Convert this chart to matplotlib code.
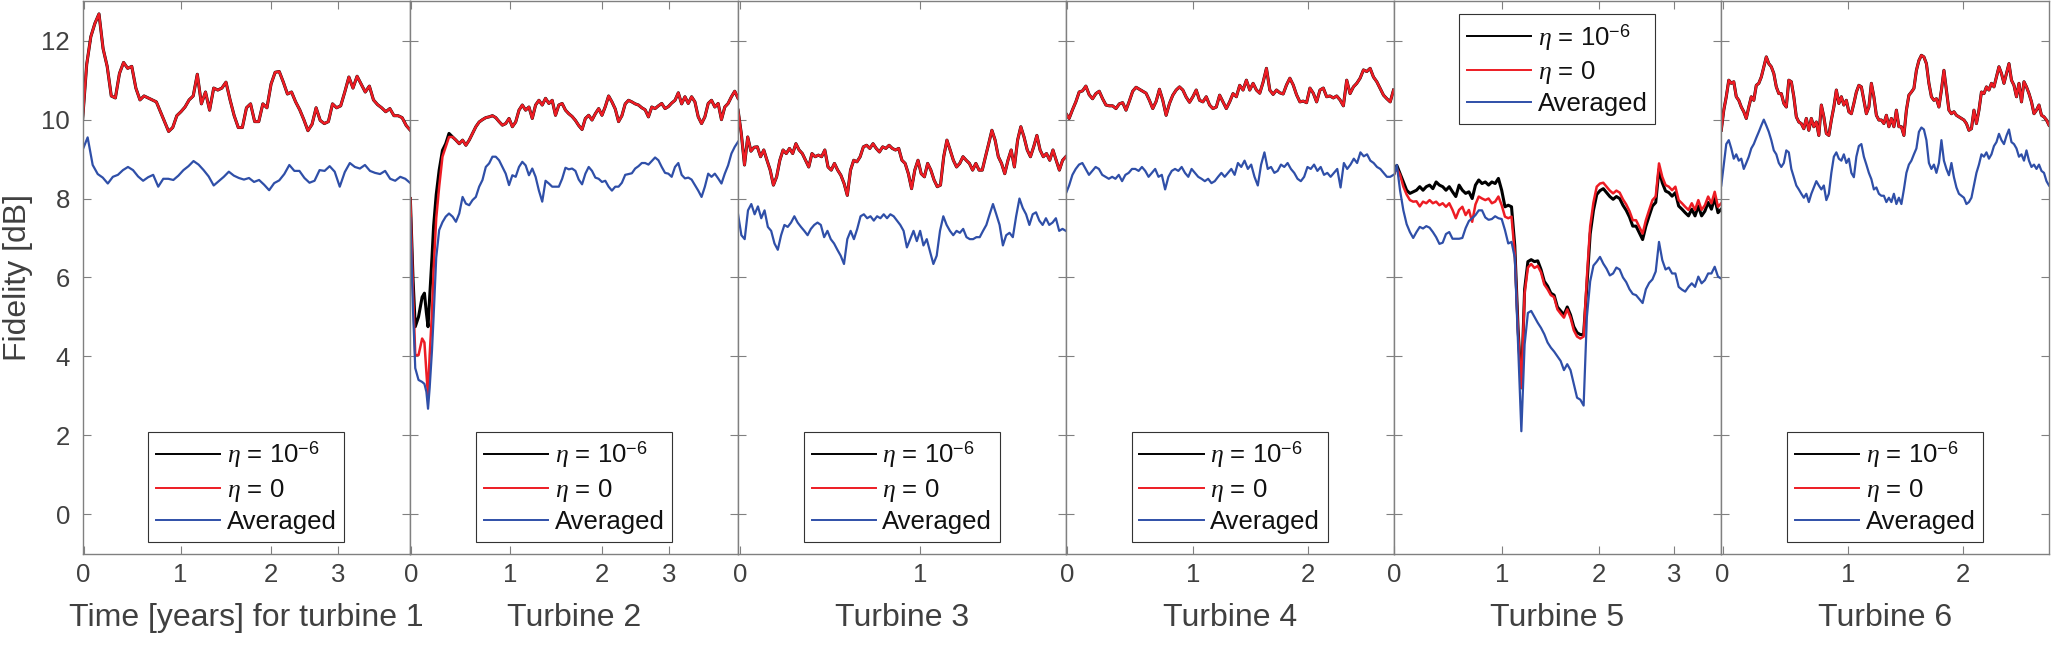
import numpy as np
import matplotlib
matplotlib.use("Agg")
import matplotlib.pyplot as plt
from matplotlib.lines import Line2D

plt.rcParams['font.family'] = ['Liberation Sans', 'DejaVu Sans']
plt.rcParams['mathtext.fontset'] = 'custom'
plt.rcParams['mathtext.rm'] = 'Liberation Sans'
plt.rcParams['mathtext.it'] = 'Liberation Serif:italic'

# ---- data (fidelity in dB, x = fraction of each turbine's record) ----

# turbine 1
red1 = [10.0, 11.4, 12.1, 12.44, 12.68, 11.8, 11.35, 10.6, 10.55, 11.17,
        11.45, 11.3, 11.35, 10.8, 10.5, 10.6, 10.55, 10.5, 10.45, 10.2,
        9.95, 9.7, 9.8, 10.1, 10.2, 10.32, 10.5, 10.6, 11.15, 10.4,
        10.7, 10.24, 10.8, 10.75, 10.8, 10.95, 10.5, 10.1, 9.8, 9.8,
        10.3, 10.4, 9.95, 9.95, 10.4, 10.3, 10.9, 11.2, 11.22, 10.95,
        10.65, 10.7, 10.45, 10.25, 10.0, 9.72, 9.88, 10.3, 9.98, 9.9,
        9.95, 10.4, 10.3, 10.35, 10.7, 11.08, 10.8, 11.1, 10.9, 10.7,
        10.85, 10.5, 10.38, 10.3, 10.2, 10.28, 10.1, 10.1, 10.05, 9.85,
        9.73]
blue1 = [9.23, 9.55, 8.85, 8.62, 8.53, 8.38, 8.55, 8.6, 8.72, 8.8,
         8.72, 8.56, 8.45, 8.54, 8.6, 8.3, 8.5, 8.5, 8.47, 8.58,
         8.72, 8.82, 8.95, 8.86, 8.72, 8.56, 8.33, 8.44, 8.55, 8.68,
         8.58, 8.52, 8.48, 8.52, 8.42, 8.47, 8.35, 8.21, 8.39, 8.46,
         8.62, 8.85, 8.7, 8.7, 8.52, 8.4, 8.45, 8.72, 8.7, 8.82,
         8.68, 8.3, 8.67, 8.9, 8.8, 8.76, 8.85, 8.7, 8.65, 8.62,
         8.7, 8.5, 8.45, 8.55, 8.5, 8.39]

# turbine 2: start-up dip sampled densely, then a regular grid
x2_dip = [0, 0.008, 0.015, 0.025, 0.036, 0.043, 0.049, 0.054, 0.059, 0.066,
          0.071, 0.079, 0.088, 0.098, 0.108, 0.118]
black2_dip = [8.0, 6.0, 4.75, 5.0, 5.5, 5.6, 5.1, 4.75, 5.5, 6.5,
              7.3, 8.1, 8.72, 9.22, 9.39, 9.65]
red2_dip = [8.0, 5.7, 4.03, 4.03, 4.45, 4.35, 3.6, 2.98, 4.03, 5.1,
            6.2, 7.5, 8.3, 9.06, 9.31, 9.56]
blue2_dip = [7.5, 5.2, 3.7, 3.4, 3.35, 3.3, 3.1, 2.67, 3.2, 4.14,
             5.0, 6.5, 7.2, 7.4, 7.54, 7.62]
red2_rest = [9.56, 9.48, 9.39, 9.48, 9.35, 9.48, 9.65, 9.82, 9.94, 10.0,
             10.05, 10.07, 10.1, 10.05, 9.95, 9.86, 9.9, 10.03, 9.82, 9.94,
             10.24, 10.37, 10.24, 10.32, 10.03, 10.37, 10.49, 10.37, 10.54, 10.41,
             10.49, 10.11, 10.37, 10.41, 10.24, 10.15, 10.08, 9.98, 9.85, 9.75,
             10.03, 10.11, 9.99, 10.15, 10.28, 10.11, 10.33, 10.6, 10.45, 10.27,
             9.95, 10.1, 10.4, 10.49, 10.45, 10.4, 10.37, 10.3, 10.25, 10.07,
             10.32, 10.28, 10.35, 10.41, 10.28, 10.33, 10.42, 10.49, 10.68, 10.4,
             10.58, 10.41, 10.58, 10.45, 10.07, 9.9, 10.07, 10.41, 10.49, 10.32,
             10.41, 10.0, 10.32, 10.41, 10.58, 10.72, 10.54]
blue2_rest = [7.54, 7.41, 7.62, 8.04, 7.87, 7.83, 7.96, 8.04, 8.3, 8.47,
              8.8, 8.89, 9.06, 9.06, 8.97, 8.8, 8.63, 8.34, 8.59, 8.55,
              8.8, 8.93, 8.84, 8.59, 8.76, 8.55, 8.2, 7.92, 8.45, 8.38,
              8.3, 8.3, 8.3, 8.5, 8.78, 8.74, 8.76, 8.7, 8.48, 8.36,
              8.63, 8.8, 8.7, 8.53, 8.5, 8.42, 8.45, 8.3, 8.2, 8.3,
              8.3, 8.4, 8.6, 8.62, 8.64, 8.76, 8.82, 8.9, 8.9, 8.86,
              8.95, 9.04, 8.97, 8.8, 8.65, 8.63, 8.55, 8.8, 8.9, 8.6,
              8.51, 8.53, 8.48, 8.34, 8.2, 8.04, 8.3, 8.63, 8.55, 8.63,
              8.51, 8.38, 8.63, 8.84, 9.14, 9.31, 9.44]

# turbine 3
red3 = [10.24, 9.65, 8.85, 9.56, 9.2, 9.3, 9.31, 9.06, 9.23, 8.97,
        8.72, 8.34, 8.55, 8.97, 9.23, 9.14, 9.27, 9.14, 9.39, 9.23,
        9.14, 8.97, 8.8, 9.14, 9.06, 9.1, 9.06, 9.23, 8.8, 8.72,
        8.89, 8.72, 8.59, 8.38, 8.08, 8.72, 8.97, 8.93, 9.06, 9.31,
        9.35, 9.27, 9.39, 9.27, 9.18, 9.31, 9.27, 9.35, 9.27, 9.23,
        9.27, 8.97, 8.89, 8.63, 8.25, 8.72, 8.97, 8.63, 8.55, 8.89,
        8.72, 8.47, 8.3, 8.34, 9.06, 9.48, 9.23, 8.97, 8.8, 8.89,
        9.06, 8.97, 8.89, 8.72, 8.89, 8.72, 8.72, 9.06, 9.39, 9.73,
        9.48, 9.06, 8.89, 8.63, 8.97, 9.23, 8.8, 9.48, 9.82, 9.56,
        9.23, 9.06, 9.31, 9.6, 9.23, 9.06, 9.14, 8.97, 9.23, 8.97,
        8.72, 8.97, 9.06]
blue3 = [7.6, 7.07, 6.97, 7.7, 7.86, 7.6, 7.8, 7.5, 7.7, 7.28,
         7.18, 6.86, 6.7, 7.07, 7.33, 7.28, 7.39, 7.55, 7.39, 7.28,
         7.18, 7.07, 7.23, 7.33, 7.39, 7.33, 7.02, 7.18, 6.97, 6.86,
         6.7, 6.55, 6.34, 6.97, 7.18, 6.97, 7.23, 7.55, 7.6, 7.5,
         7.55, 7.44, 7.55, 7.5, 7.6, 7.5, 7.6, 7.55, 7.44, 7.33,
         7.18, 6.76, 6.97, 7.18, 6.92, 7.18, 6.81, 6.97, 6.65, 6.34,
         6.55, 7.18, 7.55, 7.33, 7.18, 7.07, 7.18, 7.13, 7.23, 7.02,
         6.97, 6.97, 7.02, 7.02, 7.18, 7.33, 7.6, 7.86, 7.6, 7.33,
         6.81, 7.07, 7.13, 7.02, 7.55, 8.0, 7.76, 7.6, 7.33, 7.6,
         7.65, 7.44, 7.33, 7.5, 7.33, 7.39, 7.5, 7.18, 7.23, 7.18]

# turbine 4
red4 = [10.16, 10.03, 10.25, 10.45, 10.7, 10.73, 10.85, 10.63, 10.53, 10.66,
        10.72, 10.53, 10.37, 10.35, 10.35, 10.28, 10.4, 10.43, 10.24, 10.47,
        10.72, 10.82, 10.77, 10.72, 10.67, 10.49, 10.28, 10.46, 10.77, 10.49,
        10.11, 10.41, 10.62, 10.75, 10.83, 10.75, 10.57, 10.44, 10.58, 10.75,
        10.49, 10.45, 10.58, 10.37, 10.28, 10.32, 10.62, 10.45, 10.28, 10.45,
        10.66, 10.58, 10.87, 10.75, 11.0, 10.75, 10.92, 10.75, 10.67, 10.95,
        11.3, 10.75, 10.64, 10.75, 10.68, 10.65, 10.88, 11.05, 10.88, 10.63,
        10.45, 10.47, 10.43, 10.8, 10.67, 10.45, 10.75, 10.8, 10.58, 10.6,
        10.55, 10.6, 10.5, 10.35, 11.0, 10.66, 10.83, 10.92, 11.05, 11.26,
        11.22, 11.3, 11.08, 10.96, 10.79, 10.62, 10.53, 10.45, 10.75]
blue4 = [8.12, 8.33, 8.6, 8.75, 8.86, 8.9, 8.75, 8.6, 8.7, 8.8,
         8.75, 8.6, 8.55, 8.5, 8.55, 8.5, 8.6, 8.44, 8.6, 8.65,
         8.75, 8.75, 8.7, 8.8, 8.7, 8.55, 8.65, 8.75, 8.55, 8.6,
         8.23, 8.55, 8.7, 8.75, 8.7, 8.8, 8.65, 8.55, 8.75, 8.65,
         8.55, 8.5, 8.44, 8.5, 8.39, 8.44, 8.55, 8.65, 8.55, 8.65,
         8.75, 8.6, 8.9, 8.8, 8.96, 8.75, 8.86, 8.55, 8.33, 8.86,
         9.17, 8.75, 8.8, 8.65, 8.7, 8.86, 8.8, 8.9, 8.75, 8.65,
         8.5, 8.44, 8.55, 8.8, 8.75, 8.86, 8.7, 8.8, 8.6, 8.65,
         8.55, 8.65, 8.75, 8.28, 8.9, 8.75, 8.86, 9.01, 8.9, 9.17,
         9.07, 9.12, 8.96, 8.9, 8.8, 8.75, 8.65, 8.55, 8.55, 8.6]

# turbine 5
red5 = [8.6, 8.76, 8.6, 8.3, 8.1, 7.96, 7.92, 7.93, 7.8, 7.92,
        7.88, 7.96, 7.88, 7.92, 7.83, 7.88, 7.79, 7.88, 7.71, 7.5,
        7.71, 7.79, 7.58, 7.71, 7.41, 7.85, 8.05, 8.0, 7.96, 8.0,
        7.88, 7.92, 8.05, 7.83, 7.54, 7.5, 7.54, 6.6, 4.6, 3.2,
        5.6, 6.25, 6.34, 6.24, 6.29, 6.13, 5.82, 5.7, 5.55, 5.5,
        5.19, 5.08, 4.98, 5.19, 4.98, 4.66, 4.5, 4.45, 4.5, 6.0,
        7.3, 7.9, 8.3, 8.38, 8.4, 8.3, 8.2, 8.13, 8.2, 8.15,
        7.98, 7.85, 7.68, 7.45, 7.45, 7.28, 7.11, 7.45, 7.71, 7.96,
        8.05, 8.89, 8.55, 8.34, 8.3, 8.21, 8.3, 7.96, 7.88, 7.79,
        7.71, 7.88, 7.71, 7.96, 7.71, 7.83, 8.05, 7.88, 8.17, 7.79,
        7.88]
black5 = [8.6, 8.84, 8.63, 8.42, 8.21, 8.13, 8.17, 8.21, 8.3, 8.21,
          8.3, 8.34, 8.25, 8.42, 8.34, 8.3, 8.21, 8.3, 8.17, 8.05,
          8.34, 8.21, 8.13, 8.17, 8.0, 8.34, 8.47, 8.38, 8.42, 8.34,
          8.42, 8.38, 8.51, 8.21, 7.79, 7.83, 7.79, 6.8, 4.7, 3.2,
          5.7, 6.4, 6.45, 6.4, 6.42, 6.2, 5.9, 5.78, 5.6, 5.55,
          5.25, 5.15, 5.05, 5.25, 5.05, 4.75, 4.6, 4.55, 4.55, 5.8,
          7.1, 7.7, 8.1, 8.2, 8.25, 8.15, 8.05, 7.98, 8.05, 8.0,
          7.83, 7.7, 7.53, 7.3, 7.3, 7.13, 6.96, 7.3, 7.56, 7.81,
          7.9, 8.74, 8.4, 8.19, 8.15, 8.06, 8.15, 7.81, 7.73, 7.64,
          7.56, 7.73, 7.56, 7.81, 7.56, 7.68, 7.9, 7.73, 8.02, 7.64,
          7.73]
blue5 = [8.55, 8.85, 8.2, 7.7, 7.35, 7.15, 7.0, 7.15, 7.28, 7.24,
         7.3, 7.26, 7.15, 7.02, 6.85, 6.88, 7.1, 7.15, 6.98, 6.98,
         6.98, 7.0, 7.25, 7.43, 7.5, 7.58, 7.7, 7.7, 7.52, 7.46,
         7.48, 7.55, 7.5, 7.48, 7.2, 6.86, 6.9, 6.5, 4.3, 2.1,
         4.3, 5.1, 5.15, 5.0, 4.85, 4.72, 4.56, 4.35, 4.22, 4.12,
         4.0, 3.88, 3.65, 3.8, 3.65, 3.3, 2.95, 2.9, 2.75, 5.0,
         5.9, 6.3, 6.4, 6.52, 6.35, 6.22, 6.05, 6.1, 6.25, 6.2,
         6.0, 5.88, 5.7, 5.58, 5.55, 5.45, 5.35, 5.7, 5.86, 5.95,
         6.15, 6.9, 6.44, 6.2, 6.25, 6.1, 6.1, 5.76, 5.69, 5.64,
         5.76, 5.85, 5.76, 6.02, 5.85, 5.93, 6.1, 6.1, 6.27, 6.02,
         5.97]

# turbine 6
red6 = [9.73, 10.24, 10.58, 11.0, 10.92, 10.96, 10.58, 10.49, 10.32, 10.2,
        10.03, 10.32, 10.58, 10.49, 10.87, 10.92, 11.08, 11.34, 11.59, 11.42,
        11.34, 11.17, 10.83, 10.66, 10.66, 10.41, 10.32, 11.0, 10.96, 10.58,
        10.07, 9.94, 9.9, 9.77, 10.03, 9.73, 10.03, 9.82, 9.94, 9.6,
        10.37, 10.07, 9.65, 9.6, 9.99, 10.32, 10.75, 10.41, 10.58, 10.37,
        10.49, 10.2, 10.15, 10.41, 10.7, 10.87, 10.83, 10.49, 10.15, 10.32,
        10.92, 10.58, 10.11, 9.99, 9.99, 9.9, 10.11, 9.82, 10.03, 9.82,
        10.24, 9.82, 9.82, 9.6, 10.24, 10.62, 10.7, 10.79, 11.25, 11.5,
        11.63, 11.59, 11.42, 10.92, 10.58, 10.49, 10.53, 10.32, 10.75, 11.25,
        10.75, 10.24, 10.15, 10.2, 10.11, 10.07, 10.03, 9.99, 9.9, 9.73,
        9.77, 10.24, 9.9, 10.24, 10.7, 10.66, 10.83, 10.75, 10.92, 10.83,
        11.08, 11.34, 11.17, 10.92, 11.17, 11.42, 11.0, 10.87, 10.58, 10.92,
        10.45, 10.96, 10.83, 10.66, 10.45, 10.15, 10.24, 10.37, 10.11, 10.07,
        9.99, 9.86]
blue6 = [8.33, 8.86, 9.38, 9.48, 9.27, 9.01, 9.12, 8.96, 9.01, 8.75,
         8.9, 9.06, 9.27, 9.38, 9.54, 9.69, 9.85, 10.0, 9.85, 9.69,
         9.48, 9.22, 9.12, 8.9, 8.8, 8.9, 9.22, 9.17, 8.75, 8.54,
         8.33, 8.23, 8.12, 8.02, 8.12, 7.91, 8.12, 8.28, 8.44, 8.33,
         8.23, 8.33, 7.96, 8.12, 8.65, 9.06, 9.17, 9.01, 8.96, 9.12,
         8.9, 9.01, 8.65, 8.54, 9.06, 9.33, 9.38, 9.06, 8.86, 8.65,
         8.49, 8.23, 8.28, 8.12, 8.07, 8.07, 7.91, 8.02, 7.91, 8.12,
         7.86, 8.02, 7.86, 8.23, 8.65, 8.86, 8.96, 9.12, 9.27, 9.69,
         9.8, 9.75, 9.48, 8.9, 8.75, 8.86, 8.65, 8.9, 9.48, 8.96,
         8.75, 8.59, 8.9, 8.54, 8.28, 8.12, 8.07, 8.02, 7.86, 7.91,
         8.02, 8.33, 8.65, 8.86, 9.12, 9.06, 9.17, 9.01, 9.12, 9.33,
         9.43, 9.64, 9.48, 9.38, 9.59, 9.75, 9.43, 9.38, 9.27, 9.06,
         9.12, 8.96, 9.22, 8.96, 8.8, 8.86, 8.75, 8.86, 8.7, 8.65,
         8.44, 8.33]

xlabels = ['Time [years] for turbine 1', 'Turbine 2', 'Turbine 3',
           'Turbine 4', 'Turbine 5', 'Turbine 6']
year_labels = [['0', '1', '2', '3'], ['0', '1', '2', '3'], ['0', '1'],
               ['0', '1', '2'], ['0', '1', '2', '3'], ['0', '1', '2']]
# where each year boundary falls along the panel
year_pos = [[0.003, 0.299, 0.574, 0.779], [0.003, 0.304, 0.584, 0.79],
            [0.006, 0.556], [0.004, 0.388, 0.738],
            [0.002, 0.331, 0.628, 0.856], [0.004, 0.387, 0.737]]

legend_labels = [r'$\eta$ = 10$^{-6}$', r'$\eta$ = 0', 'Averaged']
colors = ['black', '#ed1c24', '#2f4fa8']


def grid(vals):
    return np.linspace(0, 1, len(vals))


x2 = np.concatenate([x2_dip, np.linspace(0.129, 1, len(red2_rest))])
panels = [
    (grid(red1), red1, grid(red1), red1, grid(blue1), blue1),
    (x2, black2_dip + red2_rest, x2, red2_dip + red2_rest, x2, blue2_dip + blue2_rest),
    (grid(red3), red3, grid(red3), red3, grid(blue3), blue3),
    (grid(red4), red4, grid(red4), red4, grid(blue4), blue4),
    (grid(black5), black5, grid(red5), red5, grid(blue5), blue5),
    (grid(red6), red6, grid(red6), red6, grid(blue6), blue6),
]

fig = plt.figure(figsize=(20.56, 6.47), dpi=100)
left0 = 82.6 / 2056
w = (2049 - 82.6) / 2056 / 6
bottom, top = 0.1445, 0.998

grey = '#808080'
txt = '#404040'

for i, (xk, yk, xr, yr, xb, yb) in enumerate(panels):
    ax = fig.add_axes([left0 + i * w, bottom, w, top - bottom])
    ax.plot(xk, yk, color=colors[0], lw=2.2)
    ax.plot(xr, yr, color=colors[1], lw=1.8)
    ax.plot(xb, yb, color=colors[2], lw=1.6)
    ax.set_xlim(0, 1)
    ax.set_ylim(-1, 13)
    ax.set_yticks(range(0, 13, 2))
    ax.set_xticks(year_pos[i])
    ax.set_xticklabels(year_labels[i])
    ax.tick_params(direction='in', length=6, width=0.8, top=True, right=True,
                   color=grey, labelcolor=txt, labelsize=18.5)
    ax.tick_params(axis='x', pad=7)
    ax.tick_params(axis='y', pad=9)
    if i > 0:
        ax.tick_params(labelleft=False)
    else:
        ax.set_ylabel('Fidelity [dB]', fontsize=23, color=txt, labelpad=6)
    for sp in ax.spines.values():
        sp.set_color(grey)
        sp.set_linewidth(1.0)
    ax.set_xlabel(xlabels[i], fontsize=23, color=txt, labelpad=11)

    if i == 4:
        loc, anchor = 'upper center', (0.5, 0.977)
    else:
        loc, anchor = 'lower center', (0.5, 0.021)
    handles = [Line2D([], [], color=c, lw=1.4) for c in colors]
    leg = ax.legend(handles, legend_labels, loc=loc, bbox_to_anchor=anchor,
                    fontsize=18.5, fancybox=False, framealpha=1, edgecolor='#333333',
                    handlelength=2.5, handletextpad=0.25, borderpad=0.3,
                    labelspacing=0.25, borderaxespad=0)
    leg.get_frame().set_linewidth(0.8)
    for t in leg.get_texts():
        t.set_color('#111111')

fig.savefig('out.png', dpi=100)
